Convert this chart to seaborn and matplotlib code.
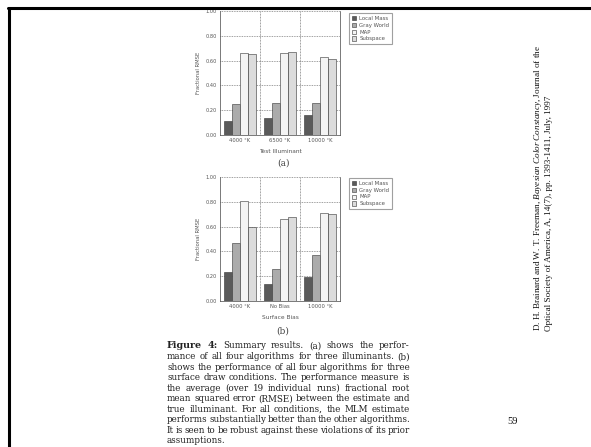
import matplotlib
matplotlib.use("Agg")
import matplotlib.pyplot as plt
import seaborn as sns
import pandas as pd
from matplotlib.lines import Line2D

algorithms = ["Local Mass", "Gray World", "MAP", "Subspace"]

illuminants = ["4000 °K", "6500 °K", "10000 °K"]
illum_local_mass = [0.11, 0.14, 0.16]
illum_gray_world = [0.25, 0.26, 0.26]
illum_map = [0.66, 0.66, 0.63]
illum_subspace = [0.65, 0.67, 0.61]

biases = ["4000 °K", "No Bias", "10000 °K"]
bias_local_mass = [0.23, 0.14, 0.19]
bias_gray_world = [0.47, 0.26, 0.37]
bias_map = [0.81, 0.66, 0.71]
bias_subspace = [0.60, 0.68, 0.70]

yticks = [0.0, 0.2, 0.4, 0.6, 0.8, 1.0]
ytick_labels = ["0.00", "0.20", "0.40", "0.60", "0.80", "1.00"]

caption_lines = [
    "Figure 4: Summary results. (a) shows the perfor-",
    "mance of all four algorithms for three illuminants. (b)",
    "shows the performance of all four algorithms for three",
    "surface draw conditions. The performance measure is",
    "the average (over 19 individual runs) fractional root",
    "mean squared error (RMSE) between the estimate and",
    "true illuminant. For all conditions, the MLM estimate",
    "performs substantially better than the other algorithms.",
    "It is seen to be robust against these violations of its prior",
    "assumptions.",
]

palette = ["#5a5a5a", "#ababab", "#f4f4f4", "#dcdcdc"]

sns.set_theme(style="white")
plt.rcParams["font.family"] = ["DejaVu Sans"]
plt.rcParams["mathtext.fontset"] = "custom"
plt.rcParams["mathtext.rm"] = "Liberation Serif"
plt.rcParams["mathtext.it"] = "Liberation Serif:italic"

W, H = 591, 447
fig = plt.figure(figsize=(W / 100, H / 100), dpi=100)
fig.patch.set_facecolor("white")


def px_axes(x0, y0, x1, y1):
    return fig.add_axes([x0 / W, 1 - y1 / H, (x1 - x0) / W, (y1 - y0) / H])


def make_df(cats, lm, gw, mp, sb):
    rows = []
    for vals, alg in zip([lm, gw, mp, sb], algorithms):
        for c, v in zip(cats, vals):
            rows.append({"cat": c, "alg": alg, "val": v})
    return pd.DataFrame(rows)


def draw_panel(ax, df, cats, xlabel, legend_box):
    sns.barplot(data=df, x="cat", y="val", hue="alg", order=cats,
                hue_order=algorithms, palette=palette, ax=ax,
                edgecolor="#333333", linewidth=0.4, width=0.82,
                saturation=1, legend=False)
    ax.set_xlim(-0.5, 2.5)
    ax.set_ylim(0, 1.0)
    ax.set_yticks(yticks)
    ax.set_yticklabels(ytick_labels, fontsize=3.6, color="#555555")
    ax.set_xticks(range(3))
    ax.set_xticklabels(cats, fontsize=3.8, color="#555555")
    ax.tick_params(axis="both", length=1.5, width=0.4, pad=1, colors="#555555")
    ax.set_ylabel("Fractional RMSE", fontsize=3.8, color="#555555", labelpad=3)
    ax.set_xlabel(xlabel, fontsize=4.2, color="#555555", labelpad=4)
    for y in yticks[1:]:
        ax.axhline(y, color="#666666", lw=0.5, ls=(0, (1.2, 1.2)), zorder=0)
    for x in [0.5, 1.5]:
        ax.axvline(x, color="#666666", lw=0.5, ls=(0, (1.2, 1.0)), zorder=0)
    for s in ax.spines.values():
        s.set_color("#444444")
        s.set_linewidth(0.5)
    ax.spines["top"].set_visible(False)
    handles = [plt.Rectangle((0, 0), 1, 1, facecolor=c, edgecolor="#333333",
                             lw=0.4) for c in palette]
    leg = ax.legend(handles, algorithms, fontsize=3.9, loc="upper left",
                    bbox_to_anchor=legend_box, bbox_transform=fig.transFigure,
                    frameon=True, fancybox=False, handlelength=0.8,
                    handleheight=0.8, handletextpad=0.6, borderpad=0.5,
                    labelspacing=0.35, borderaxespad=0)
    leg.get_frame().set_edgecolor("#888888")
    leg.get_frame().set_linewidth(0.8)
    for t in leg.get_texts():
        t.set_color("#555555")


ax1 = px_axes(220, 11, 340, 135)
draw_panel(ax1, make_df(illuminants, illum_local_mass, illum_gray_world,
                        illum_map, illum_subspace),
           illuminants, "Test Illuminant", (349 / W, 1 - 13 / H))
ax2 = px_axes(220, 177, 340, 301)
draw_panel(ax2, make_df(biases, bias_local_mass, bias_gray_world,
                        bias_map, bias_subspace),
           biases, "Surface Bias", (349 / W, 1 - 178 / H))

serif = ["DejaVu Serif"]
fig.text(283 / W, 1 - 163 / H, "(a)", fontsize=6.5, family=serif,
         color="#444444", ha="center", va="center")
fig.text(283 / W, 1 - 331 / H, "(b)", fontsize=6.5, family=serif,
         color="#444444", ha="center", va="center")

# caption, justified between x0 and x1
renderer = fig.canvas.get_renderer()
cx0, cx1 = 167, 410
cap_fs = 6.3
y0 = 346
for i, line in enumerate(caption_lines):
    y = y0 + i * 10.55
    words = line.split(" ")
    texts = []
    for j, w in enumerate(words):
        bold = (i == 0 and j < 2)
        t = fig.text(0, 1 - y / H, w, fontsize=cap_fs + (0.6 if bold else 0),
                     family=serif, weight=("bold" if bold else "normal"),
                     color="#222222", ha="left", va="center")
        texts.append(t)
    widths = [t.get_window_extent(renderer).width for t in texts]
    total = sum(widths)
    last = (i == len(caption_lines) - 1)
    if last or len(words) == 1:
        gap = 2.5
    else:
        gap = (cx1 - cx0 - total) / (len(words) - 1)
    x = cx0
    for t, wd in zip(texts, widths):
        t.set_x(x / W)
        x += wd + gap

# citation (rotated)
cite_fs = 6.6
fig.text(538 / W, 1 - 331 / H,
         r"D. H. Brainard and W. T. Freeman, $\mathit{Bayesian\ Color\ Constancy}$, Journal of the",
         rotation=90, fontsize=cite_fs, family=["Liberation Serif"], color="#111111",
         ha="center", va="bottom")
fig.text(549 / W, 1 - 331 / H,
         "Optical Society of America, A, 14(7), pp. 1393-1411, July, 1997",
         rotation=90, fontsize=cite_fs, family=["Liberation Serif"], color="#111111",
         ha="center", va="bottom")
fig.text(513 / W, 1 - 421 / H, "59", fontsize=7.5, family=["Liberation Serif"],
         color="#111111", ha="center", va="center")

# slide frame
fig.add_artist(Line2D([8 / W, 1.0], [1 - 7.5 / H, 1 - 7.5 / H],
                      transform=fig.transFigure, color="black", lw=2.2))
fig.add_artist(Line2D([8.5 / W, 8.5 / W], [1 - 7.5 / H, 0],
                      transform=fig.transFigure, color="black", lw=2.2))

fig.savefig("out.png", dpi=100, facecolor="white")
